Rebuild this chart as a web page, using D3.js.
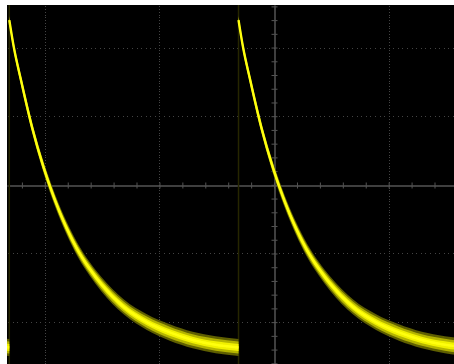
<!DOCTYPE html>
<html lang="en">
<head>
    <meta charset="utf-8">
    <title>Scope capture</title>
    <style>
        html,
        body {
            margin: 0;
            padding: 0;
            background: #fff;
        }

        svg {
            display: block;
        }
    </style>
    <!-- d3js -->
    <script src="https://d3js.org/d3.v7.min.js"></script>
</head>
<body>
    <div id="scope"></div>
    <script>
        // everything in screen divisions, read off the capture
        // start of each sweep (horizontal divisions from centre)
        var sweepStarts = [-4.31, -2.31, -0.31];
        // time after sweep start (div) and trace level (div)
        var sweepTime = [0, 0.04, 0.1, 0.2, 0.3, 0.4, 0.5, 0.6, 0.7, 0.8, 1.0, 1.2, 1.4, 1.6, 1.8, 2.0];
        var sweepVolts = [2.40, 2.00, 1.54, 0.83, 0.25, -0.23, -0.63, -0.96, -1.22, -1.44, -1.78, -2.00, -2.15, -2.26, -2.33, -2.37];
        // noise band half height (div), grows along the sweep
        var sweepSpread = [0.07, 0.07, 0.075, 0.08, 0.085, 0.09, 0.095, 0.10, 0.10, 0.105, 0.11, 0.115, 0.12, 0.12, 0.125, 0.125];
        // graticule lines that fall on screen
        var gridX = [-2, -1, 1];
        var gridY = [-2, -1, 1, 2];

        var width = 454,
            height = 364;
        var screen = { left: 7, top: 5, right: 454, bottom: 364 };

        var x = d3.scaleLinear().domain([-2.33, 1.57]).range([screen.left, screen.right]);
        var y = d3.scaleLinear().domain([2.62, -2.61]).range([screen.top, screen.bottom]);

        var svg = d3.select("#scope").append("svg")
            .attr("width", width)
            .attr("height", height);

        var defs = svg.append("defs");
        defs.append("clipPath").attr("id", "screenClip")
            .append("rect")
            .attr("x", screen.left)
            .attr("y", screen.top)
            .attr("width", screen.right - screen.left)
            .attr("height", screen.bottom - screen.top);

        // soft phosphor look
        defs.append("filter").attr("id", "glow")
            .attr("x", "-10%").attr("y", "-10%")
            .attr("width", "120%").attr("height", "120%")
            .append("feGaussianBlur")
            .attr("stdDeviation", 0.7);

        svg.append("rect")
            .attr("x", screen.left)
            .attr("y", screen.top)
            .attr("width", screen.right - screen.left)
            .attr("height", screen.bottom - screen.top)
            .attr("fill", "#000");

        var g = svg.append("g").attr("clip-path", "url(#screenClip)");

        // dotted graticule, a dot every 1/25 division
        var dotsV = d3.range(-70, 71).map(function(i) { return i / 25; })
            .filter(function(v) { return v <= y.domain()[0] && v >= y.domain()[1]; });
        var dotsH = d3.range(-70, 71).map(function(i) { return i / 25; })
            .filter(function(v) { return v >= x.domain()[0] && v <= x.domain()[1]; });

        var grid = g.append("g").attr("fill", "#444");
        gridX.forEach(function(gx) {
            grid.selectAll(null)
                .data(dotsV)
                .enter().append("rect")
                .attr("x", Math.round(x(gx)))
                .attr("y", function(d) { return Math.round(y(d)); })
                .attr("width", 1)
                .attr("height", 1);
        });
        gridY.forEach(function(gy) {
            grid.selectAll(null)
                .data(dotsH)
                .enter().append("rect")
                .attr("x", function(d) { return Math.round(x(d)); })
                .attr("y", Math.round(y(gy)))
                .attr("width", 1)
                .attr("height", 1);
        });

        // centre axes with minor ticks every 0.2 div
        var minorX = dotsH.filter(function(d) { return Math.abs(Math.round(d * 5) - d * 5) < 1e-6; });
        var minorY = dotsV.filter(function(d) { return Math.abs(Math.round(d * 5) - d * 5) < 1e-6; });

        function styleAxis(sel) {
            sel.selectAll("text").remove();
            sel.select(".domain").attr("stroke", "#555").attr("stroke-width", 1);
            sel.selectAll(".tick line").attr("stroke", "#555");
        }

        g.append("g")
            .attr("transform", "translate(0," + (Math.round(y(0)) + 0.5) + ")")
            .call(d3.axisBottom(x).tickValues(minorX).tickSize(3).tickSizeOuter(0).tickFormat(""))
            .call(styleAxis);
        g.append("g")
            .attr("transform", "translate(0," + (Math.round(y(0)) + 0.5) + ")")
            .call(d3.axisTop(x).tickValues(minorX).tickSize(3).tickSizeOuter(0).tickFormat(""))
            .call(styleAxis);
        g.append("g")
            .attr("transform", "translate(" + (Math.round(x(0)) + 0.5) + ",0)")
            .call(d3.axisLeft(y).tickValues(minorY).tickSize(3).tickSizeOuter(0).tickFormat(""))
            .call(styleAxis);
        g.append("g")
            .attr("transform", "translate(" + (Math.round(x(0)) + 0.5) + ",0)")
            .call(d3.axisRight(y).tickValues(minorY).tickSize(3).tickSizeOuter(0).tickFormat(""))
            .call(styleAxis);

        // faint retrace at each sweep start
        g.append("g")
            .selectAll("line")
            .data(sweepStarts)
            .enter().append("line")
            .attr("x1", function(d) { return x(d); })
            .attr("x2", function(d) { return x(d); })
            .attr("y1", screen.top)
            .attr("y2", screen.bottom)
            .attr("stroke", "#262600")
            .attr("stroke-width", 1.5);

        // the sweeps themselves
        var sweeps = sweepStarts.map(function(s) {
            return sweepTime.map(function(t, i) {
                return { t: s + t, v: sweepVolts[i], sp: sweepSpread[i] };
            });
        });

        function band(k) {
            return d3.area()
                .curve(d3.curveMonotoneX)
                .x(function(d) { return x(d.t); })
                .y0(function(d) { return y(d.v - d.sp * k); })
                .y1(function(d) { return y(d.v + d.sp * k); });
        }

        var line = d3.line()
            .curve(d3.curveMonotoneX)
            .x(function(d) { return x(d.t); })
            .y(function(d) { return y(d.v); });

        var traces = g.append("g")
            .attr("filter", "url(#glow)")
            .selectAll("g")
            .data(sweeps)
            .enter().append("g");

        traces.append("path")
            .attr("d", band(1))
            .attr("fill", "#5e5e00");
        traces.append("path")
            .attr("d", band(0.7))
            .attr("fill", "#b4b400");
        traces.append("path")
            .attr("d", band(0.4))
            .attr("fill", "#f0f000");
        traces.append("path")
            .attr("d", line)
            .attr("fill", "none")
            .attr("stroke", "#ffff10")
            .attr("stroke-width", 2.4);
    </script>
</body>
</html>
